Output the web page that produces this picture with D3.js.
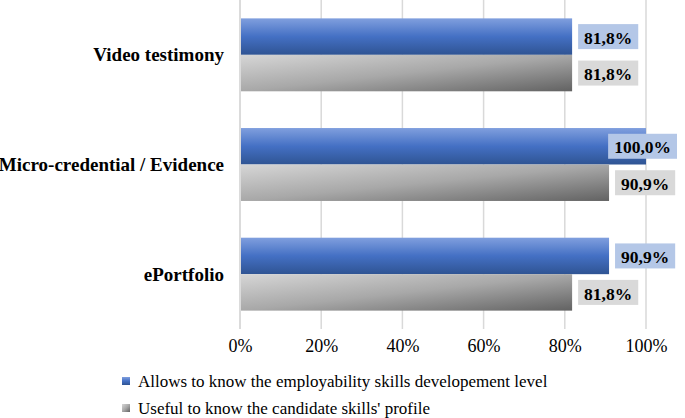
<!DOCTYPE html>
<html>
<head>
<meta charset="utf-8">
<script src="https://cdn.jsdelivr.net/npm/d3@7"></script>
<style>
  html, body { margin: 0; padding: 0; background: #fff; }
  svg { display: block; font-family: "Liberation Serif", "Times New Roman", serif; }
</style>
</head>
<body>
<svg id="chart" width="685" height="418"></svg>
<script>
const categories = ["Video testimony", "Micro-credential / Evidence", "ePortfolio"];
const seriesNames = ["Allows to know the employability skills developement level", "Useful to know the candidate skills' profile"];
const seriesA = [81.8, 100.0, 90.9];
const seriesB = [81.8, 90.9, 81.8];
const tickValues = [0, 20, 40, 60, 80, 100];

const W = 685, H = 418;
const margin = {left: 240, right: 39, top: 0, bottom: 89};
const svg = d3.select("#chart");

const defs = svg.append("defs");
const gBlue = defs.append("linearGradient").attr("id", "gBlue").attr("x1", 0).attr("y1", 0).attr("x2", 0).attr("y2", 1);
gBlue.append("stop").attr("offset", "0%").attr("stop-color", "#809fde");
gBlue.append("stop").attr("offset", "50%").attr("stop-color", "#4470c4");
gBlue.append("stop").attr("offset", "100%").attr("stop-color", "#2f5493");
const gGray = defs.append("linearGradient").attr("id", "gGray").attr("x1", 0).attr("y1", 0).attr("x2", 1).attr("y2", 1);
gGray.append("stop").attr("offset", "0%").attr("stop-color", "#d6d6d6");
gGray.append("stop").attr("offset", "50%").attr("stop-color", "#a8a8a8");
gGray.append("stop").attr("offset", "100%").attr("stop-color", "#626262");

const x = d3.scaleLinear().domain([0, 100]).range([margin.left, W - margin.right]);
const y = d3.scaleBand().domain(categories).range([margin.top, H - margin.bottom]).paddingInner(0.335).paddingOuter(0.1675);
const sub = d3.scaleBand().domain([0, 1]).range([0, y.bandwidth()]);

// gridlines
svg.append("g").selectAll("line").data(tickValues).join("line")
  .attr("x1", d => x(d)).attr("x2", d => x(d))
  .attr("y1", margin.top).attr("y2", H - margin.bottom)
  .attr("stroke", "#d9d9d9").attr("stroke-width", 1.5);

// tick labels
const xAxis = d3.axisBottom(x).tickValues(tickValues).tickFormat(d => d + "%").tickSize(0).tickPadding(0);
const ax = svg.append("g").attr("transform", `translate(0,${H - margin.bottom + 23})`).call(xAxis);
ax.select(".domain").remove();
ax.selectAll("text").attr("font-size", 18).attr("fill", "#000").attr("font-family", "Liberation Serif").attr("dy", "0");

// category labels
svg.append("g").selectAll("text").data(categories).join("text")
  .attr("x", 224).attr("y", d => y(d) + y.bandwidth() / 2)
  .attr("dy", "0.35em").attr("text-anchor", "end")
  .attr("font-size", 19).attr("font-weight", "bold").attr("fill", "#000")
  .text(d => d);

const series = [
  {vals: seriesA, fill: "url(#gBlue)", box: "#b4c7e7"},
  {vals: seriesB, fill: "url(#gGray)", box: "#d9d9d9"}
];

series.forEach((s, si) => {
  const g = svg.append("g");
  g.selectAll("rect").data(categories).join("rect")
    .attr("x", x(0) + 1)
    .attr("y", d => y(d) + sub(si))
    .attr("width", (d, i) => x(s.vals[i]) - x(0) - 1)
    .attr("height", sub.bandwidth())
    .attr("fill", s.fill);
});

// data labels
series.forEach((s, si) => {
  categories.forEach((c, i) => {
    const txt = s.vals[i].toFixed(1).replace(".", ",") + "%";
    const g = svg.append("g");
    const t = g.append("text")
      .attr("font-size", 17.5).attr("font-weight", "bold").attr("fill", "#000")
      .attr("dy", "0.35em").text(txt);
    const tw = t.node().getComputedTextLength();
    const bw = tw + 12, bh = 25;
    let bx = x(s.vals[i]) + 6;
    if (bx + bw > W - 8) bx = W - 8 - bw;
    const cy = y(c) + sub(si) + sub.bandwidth() / 2;
    g.insert("rect", "text").attr("x", bx).attr("y", cy - bh / 2).attr("width", bw).attr("height", bh).attr("fill", s.box);
    t.attr("x", bx + 6).attr("y", cy + 1);
  });
});

// axis line
svg.append("line").attr("x1", x(0)).attr("x2", x(0)).attr("y1", margin.top).attr("y2", H - margin.bottom)
  .attr("stroke", "#d9d9d9").attr("stroke-width", 1.5);

// legend
const legendColors = ["url(#gBlue)", "url(#gGray)"];
const lg = svg.append("g").selectAll("g").data(seriesNames).join("g")
  .attr("transform", (d, i) => `translate(122,${381 + i * 27})`);
lg.append("rect").attr("x", 0).attr("y", -4).attr("width", 8).attr("height", 8).attr("fill", (d, i) => legendColors[i]);
lg.append("text").attr("x", 16).attr("dy", "0.35em").attr("font-size", 17).attr("fill", "#000").text(d => d);
</script>
</body>
</html>
